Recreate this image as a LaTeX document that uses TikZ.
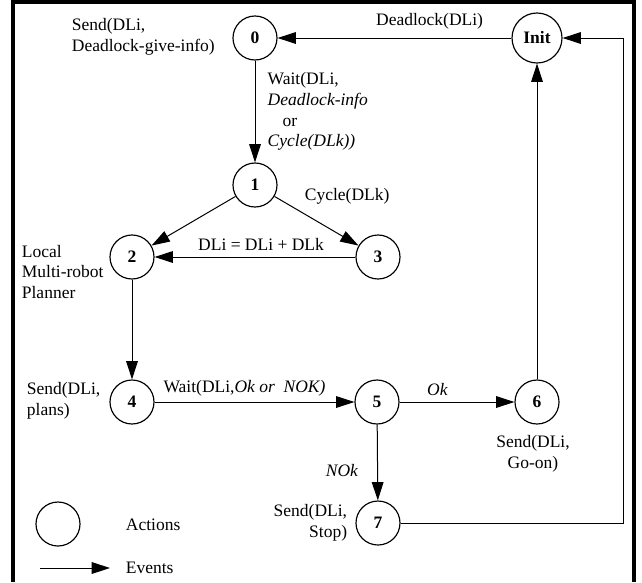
\documentclass[tikz,border=0pt]{standalone}
\usepackage{fontspec}
\setmainfont{Liberation Serif}
\usetikzlibrary{arrows.meta}
\begin{document}
\begin{tikzpicture}[x=0.6pt,y=-0.6pt,
    font=\fontsize{10.5}{12.5}\selectfont,
    act/.style={draw,circle,line width=0.7pt,minimum size=26.4pt,inner sep=0pt,
      font=\fontsize{10.5}{12.5}\selectfont\bfseries},
    ev/.style={-{Triangle[length=11pt,width=7pt]},line width=0.6pt}]
  \useasboundingbox (0,0) rectangle (642,582);
  % frame
  \draw[line width=2.4pt] (13,582) -- (13,2) -- (634,2) -- (634,582);
  % states
  \draw
    (255,38) node[act] (n0) {0}
    (537,38) node[act,minimum size=30pt] (init) {Init}
    (255,185) node[act] (n1) {1}
    (132,257) node[act] (n2) {2}
    (378,257) node[act] (n3) {3}
    (132,402) node[act] (n4) {4}
    (377,402) node[act] (n5) {5}
    (537,402) node[act] (n6) {6}
    (378,523) node[act] (n7) {7};
  \coordinate (rt) at (623,38);
  % actions
  \node[anchor=west,align=left] (s0) at (66,37) {Send(DLi,\\Deadlock-give-info)};
  \node[anchor=west,align=left] (s2) at (16,272) {Local\\Multi-robot\\Planner};
  \node[anchor=west,align=left] (s4) at (21,401) {Send(DLi,\\plans)};
  \node[align=center] (s6) at (533,454) {Send(DLi,\\Go-on)};
  \node[anchor=east,align=right] (s7) at (353,523) {Send(DLi,\\Stop)};
  % legend
  \node[act] (lgact) at (58,524) {};
  \node[anchor=west] (lbact) at (120,525) {Actions};
  \coordinate (evs) at (40,568);
  \coordinate (eve) at (110,568);
  \node[anchor=west] (lbev) at (120,568) {Events};
  % events
  \begin{scope}[ev]
    \draw (init) -- (n0) node[pos=0.35,above=1.5pt] {Deadlock(DLi)};
    \draw (n0) -- (n1) node[pos=0.5,right=4pt,align=left]
      {Wait(DLi,\\\textit{Deadlock-info}\\\hspace*{9pt}or\\\textit{Cycle(DLk))}};
    \draw (n1) -- (n2);
    \draw (n1) -- (n3) node[pos=0.29,anchor=south west] {Cycle(DLk)};
    \draw (n3) -- (n2) node[pos=0.47,above] {DLi = DLi + DLk};
    \draw (n2) -- (n4);
    \draw (n4) -- (n5) node[pos=0.45,above] {Wait(DLi,\textit{Ok or\ \ NOK)}};
    \draw (n5) -- (n6) node[pos=0.33,above] {\textit{Ok}};
    \draw (n5) -- (n7) node[pos=0.6,left=8pt] {\textit{NOk}};
    \draw (n6) -- (init);
    \draw (n7) -| (rt) -- (init);
    \draw (evs) -- (eve);
  \end{scope}
\end{tikzpicture}
\end{document}
